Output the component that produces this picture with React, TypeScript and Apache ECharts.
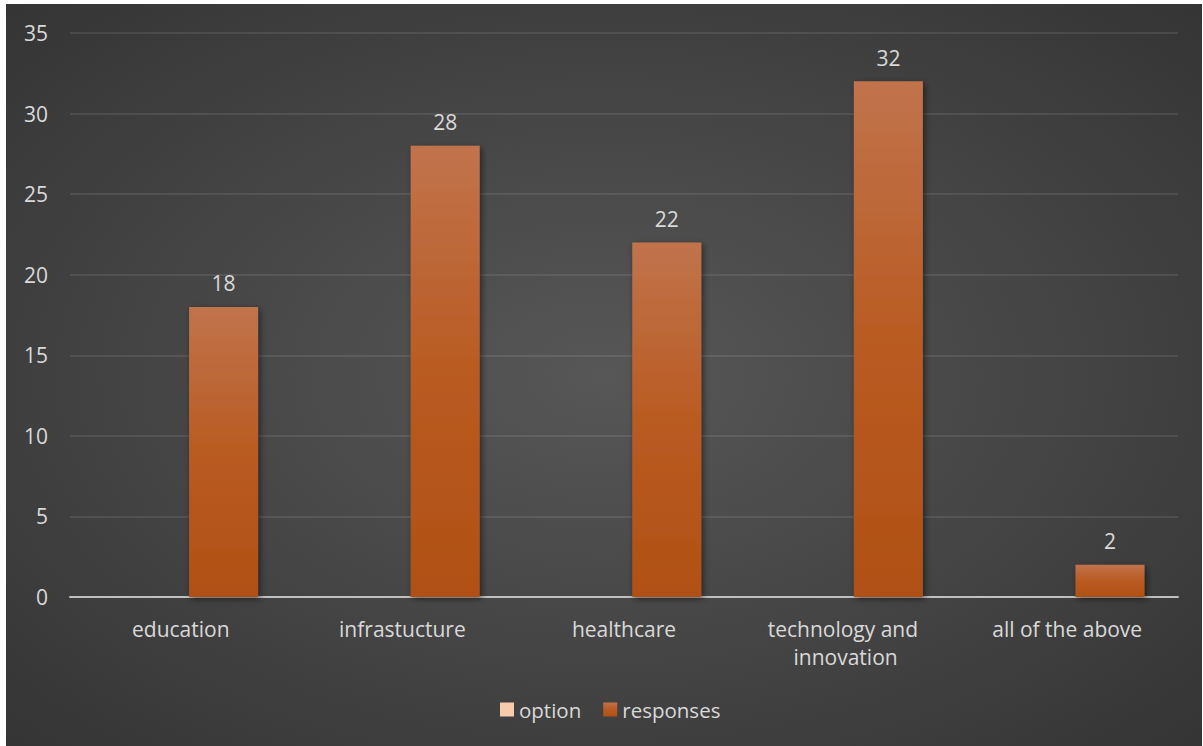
import React, { useEffect, useRef } from "react";
import * as echarts from "echarts";

const categories = ["education", "infrastucture", "healthcare", "technology and innovation", "all of the above"];
const optionValues: (number | null)[] = [null, null, null, null, null];
const responseValues = [18, 28, 22, 32, 2];
const yTicks = { min: 0, max: 35, interval: 5 };

const FONT = "'Open Sans', sans-serif";
const TEXT = "#d9d9d9";
const FS = 21;

export default function App() {
  const ref = useRef<HTMLDivElement>(null);
  useEffect(() => {
    document.body.style.margin = "0";
    const chart = echarts.init(ref.current!, undefined, { renderer: "svg" });
    chart.setOption({
      animation: false,
      backgroundColor: {
        type: "radial",
        x: 0.5,
        y: 0.5,
        r: 1.0,
        colorStops: [
          { offset: 0, color: "#575757" },
          { offset: 1, color: "#262626" },
        ],
      },
      textStyle: { fontFamily: FONT },
      grid: { left: 64, right: 24, top: 29, bottom: 149 },
      legend: {
        bottom: 21,
        left: 489,
        itemWidth: 14,
        itemHeight: 14,
        itemGap: 22,
        icon: "rect",
        textStyle: { color: TEXT, fontSize: 20.5, fontFamily: FONT },
        data: ["option", "responses"],
      },
      xAxis: {
        type: "category",
        data: categories,
        axisLine: { lineStyle: { color: "#bfbfbf", width: 2 } },
        axisTick: { show: false },
        axisLabel: {
          color: TEXT,
          fontSize: FS,
          fontFamily: FONT,
          margin: 18,
          lineHeight: 28,
          width: 190,
          overflow: "break",
          interval: 0,
        },
      },
      yAxis: {
        type: "value",
        min: yTicks.min,
        max: yTicks.max,
        interval: yTicks.interval,
        axisLine: { show: false },
        axisTick: { show: false },
        axisLabel: { color: TEXT, fontSize: FS, fontFamily: FONT, margin: 22 },
        splitLine: { lineStyle: { color: "rgba(255,255,255,0.12)", width: 1.5 } },
      },
      series: [
        {
          name: "option",
          type: "bar",
          data: optionValues,
          barWidth: 69,
          barGap: "24%",
          itemStyle: { color: "#f8cbad" },
        },
        {
          name: "responses",
          type: "bar",
          data: responseValues,
          barWidth: 69,
          barGap: "24%",
          itemStyle: {
            color: {
              type: "linear",
              x: 0,
              y: 0,
              x2: 0,
              y2: 1,
              colorStops: [
                { offset: 0, color: "#c1734c" },
                { offset: 0.5, color: "#b95b22" },
                { offset: 1, color: "#b05015" },
              ],
            },
            shadowBlur: 6,
            shadowColor: "rgba(0,0,0,0.5)",
            shadowOffsetX: 2,
            shadowOffsetY: 2,
          },
          label: {
            show: true,
            position: "top",
            distance: 13,
            color: TEXT,
            fontSize: FS,
            fontFamily: FONT,
          },
        },
      ],
    });
    return () => chart.dispose();
  }, []);
  return (
    <div style={{ position: "fixed", left: 0, top: 0, width: 1203, height: 746, background: "#ffffff" }}>
      <div ref={ref} style={{ position: "absolute", left: 6, top: 4, width: 1196, height: 742 }} />
    </div>
  );
}
